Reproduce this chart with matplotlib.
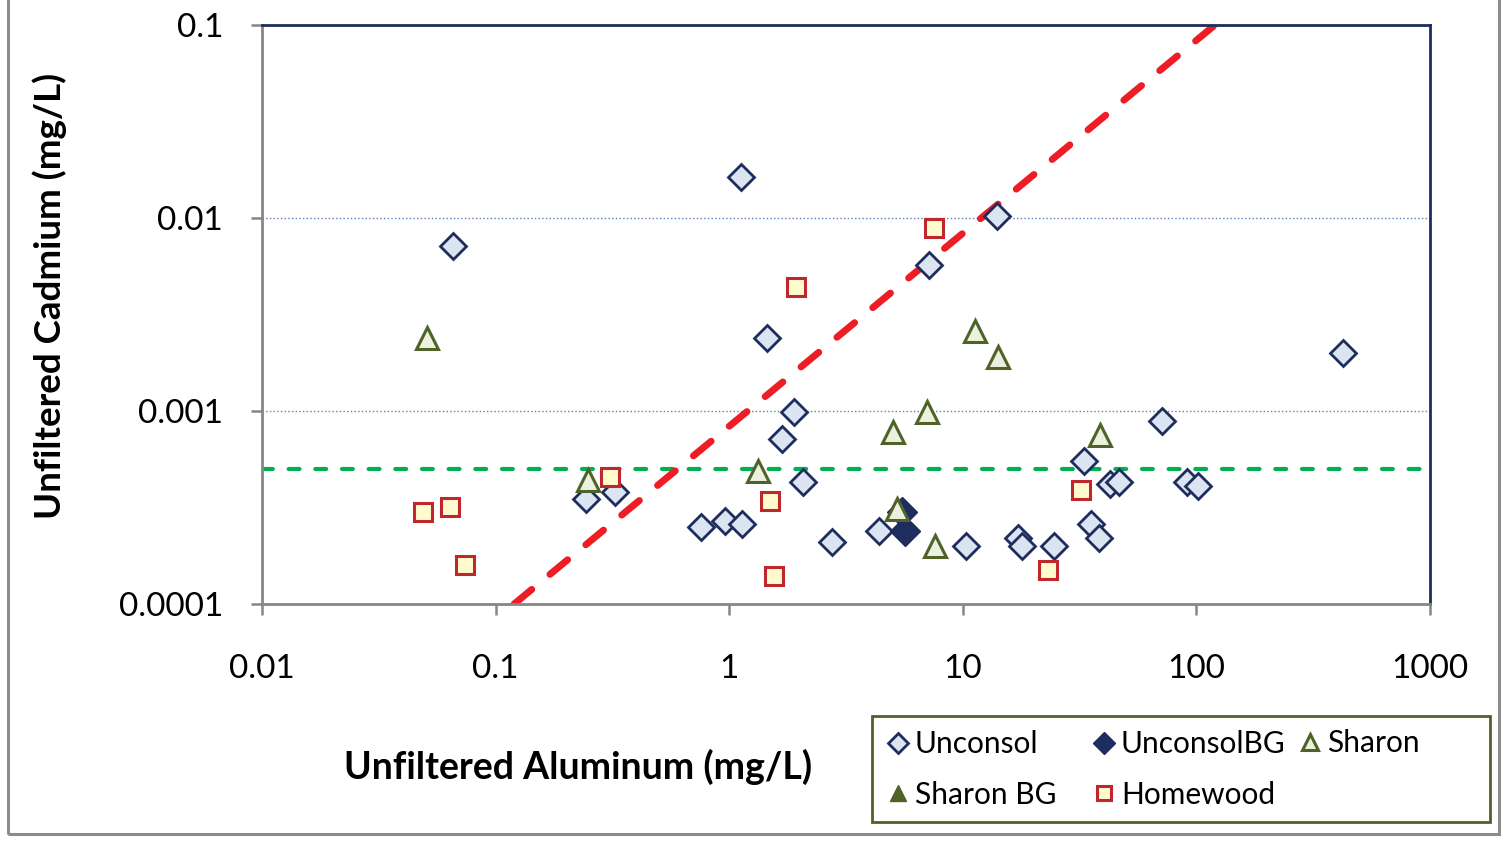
import matplotlib
matplotlib.use("Agg")
import matplotlib.pyplot as plt
from matplotlib.patches import Rectangle

# --- data (mg/L) ---
unconsol_al = [0.066, 1.12, 14.0, 7.2, 1.45, 1.89, 1.68, 2.07, 0.244, 0.324,
               0.757, 0.96, 1.13, 2.75, 4.38, 10.3, 17.2, 17.9, 24.5, 33.0,
               35.4, 38.3, 42.7, 46.6, 71.3, 91.2, 101.6, 424.0]
unconsol_cd = [0.0072, 0.0163, 0.0102, 0.0057, 0.0024, 0.00099, 0.00072, 0.00043,
               0.00035, 0.00038, 0.00025, 0.00027, 0.00026, 0.00021, 0.00024,
               0.0002, 0.00022, 0.0002, 0.0002, 0.00055, 0.00026, 0.00022,
               0.00042, 0.00043, 0.00089, 0.00043, 0.00041, 0.002]

unconsol_bg_al = [5.5, 5.66]
unconsol_bg_cd = [0.0003, 0.00024]

sharon_al = [0.051, 0.249, 1.33, 5.03, 7.03, 11.3, 14.2, 38.7, 5.23, 7.6]
sharon_cd = [0.0024, 0.00044, 0.00049, 0.00078, 0.00099, 0.0026, 0.0019,
             0.00075, 0.00031, 0.0002]

sharon_bg_al = []
sharon_bg_cd = []

homewood_al = [0.049, 0.064, 0.074, 0.309, 1.5, 1.56, 1.93, 7.5, 32.1, 23.2]
homewood_cd = [0.0003, 0.00032, 0.00016, 0.000455, 0.00034, 0.00014, 0.0044,
               0.0089, 0.00039, 0.00015]

# reference lines
ratio_line_al = [0.12, 120.0]
ratio_line_cd = [0.0001, 0.1]
limit_cd = 0.0005

x_ticks = [0.01, 0.1, 1, 10, 100, 1000]
x_tick_labels = ["0.01", "0.1", "1", "10", "100", "1000"]
y_ticks = [0.0001, 0.001, 0.01, 0.1]
y_tick_labels = ["0.0001", "0.001", "0.01", "0.1"]

navy = "#1f2d5e"
olive = "#4f6228"
red_edge = "#c0272d"
gray = "#868686"

plt.rcParams["font.family"] = ["Lato", "DejaVu Sans"]

W, H = 1501, 841
fig = plt.figure(figsize=(W / 100, H / 100), dpi=100)
ax = fig.add_axes([262 / W, 1 - 604 / H, (1430 - 262) / W, (604 - 25) / H])

ax.set_xscale("log")
ax.set_yscale("log")
ax.set_xlim(0.01, 1000)
ax.set_ylim(0.0001, 0.1)

# grid lines
for yv in y_ticks[1:]:
    ax.axhline(yv, color="#5b7fb5", lw=1.0, ls=":", zorder=1)

# reference lines
ax.plot([0.01, 1000], [limit_cd, limit_cd], color="#00b050", lw=3,
        dashes=(2.6, 3.8), dash_capstyle="round", zorder=2)
ax.plot(ratio_line_al, ratio_line_cd, color="#ee1c24", lw=5,
        dashes=(3.3, 3.4), dash_capstyle="round", zorder=2)

# series
ax.plot(unconsol_al, unconsol_cd, ls="none", marker="D", ms=13,
        mfc="#dbe5f1", mec=navy, mew=2, zorder=3, label="Unconsol")
ax.plot(unconsol_bg_al, unconsol_bg_cd, ls="none", marker="D", ms=15,
        mfc=navy, mec=navy, mew=1, zorder=3, label="UnconsolBG")
ax.plot(sharon_al, sharon_cd, ls="none", marker="^", ms=16,
        mfc="#ebf1de", mec=olive, mew=2.2, zorder=4, label="Sharon")
ax.plot(sharon_bg_al, sharon_bg_cd, ls="none", marker="^", ms=16,
        mfc=olive, mec=olive, mew=1, zorder=4, label="Sharon BG")
ax.plot(homewood_al, homewood_cd, ls="none", marker="s", ms=13.5,
        mfc="#fffbcf", mec=red_edge, mew=2.2, zorder=5, label="Homewood")

# axes styling
ax.set_xticks(x_ticks)
ax.set_xticklabels(x_tick_labels)
ax.set_yticks(y_ticks)
ax.set_yticklabels(y_tick_labels)
ax.minorticks_off()
ax.tick_params(axis="x", length=8, width=1.8, color=gray, pad=28, labelsize=24)
ax.tick_params(axis="y", length=8, width=1.8, color=gray, pad=20, labelsize=24)
for side in ["left", "bottom"]:
    ax.spines[side].set_color(gray)
    ax.spines[side].set_linewidth(2)
for side in ["top", "right"]:
    ax.spines[side].set_color(navy)
    ax.spines[side].set_linewidth(2)

fig.text(50 / W, 1 - 296 / H, "Unfiltered Cadmium (mg/L)", fontsize=26.5,
         fontweight="bold", rotation=90, ha="center", va="center")
fig.text(578 / W, 1 - 767 / H, "Unfiltered Aluminum (mg/L)", fontsize=27,
         fontweight="bold", ha="center", va="center")

# legend: three single-column legends inside one drawn frame
h, l = ax.get_legend_handles_labels()
columns = [([0, 3], 769.5), ([1, 4], 769.5), ([2], 743)]
col_x = [888, 1094, 1300]
for (idx, yc), xl in zip(columns, col_x):
    fig.legend([h[i] for i in idx], [l[i] for i in idx], ncol=1,
               loc="center left", bbox_to_anchor=(xl / W, 1 - yc / H),
               fontsize=21.5, frameon=False, borderaxespad=0, borderpad=0,
               handletextpad=0.2, handlelength=0.7, markerscale=0.75,
               labelspacing=0.74)
fig.patches.append(Rectangle((872 / W, 1 - 822 / H), (1490 - 872) / W, (822 - 716) / H,
                             transform=fig.transFigure, fill=False,
                             edgecolor=olive, lw=2))

# outer chart border
fig.patches.append(Rectangle((8 / W, 1 - 834 / H), (1499 - 8) / W, 0.05 + 834 / H,
                             transform=fig.transFigure, fill=False,
                             edgecolor="#8c8c8c", lw=2.2, clip_on=False))

fig.savefig("out.png", dpi=100)
